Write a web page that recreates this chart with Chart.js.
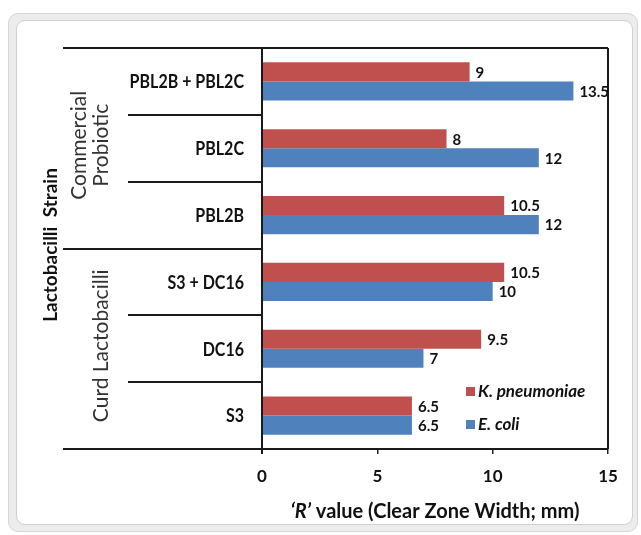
<!DOCTYPE html>
<html>
<head>
<meta charset="utf-8">
<script src="https://cdn.jsdelivr.net/npm/chart.js@4.4.1/dist/chart.umd.min.js"></script>
<style>
  body { margin: 0; background: #fff; }
  #frame { position: absolute; left: 8px; top: 13px; width: 628px; height: 517px; background: #ececec; border: 1px solid #d6d6d6; border-radius: 10px; }
  #inner { position: absolute; left: 16px; top: 20px; width: 615px; height: 503px; background: #fff; border: 1px solid #d0d0d0; border-radius: 9px; }
  #c { position: absolute; left: 0; top: 0; }
</style>
</head>
<body>
<div id="frame"></div>
<div id="inner"></div>
<canvas id="c" width="641" height="535"></canvas>
<script>
// data, top to bottom
const strains = ['PBL2B + PBL2C', 'PBL2C', 'PBL2B', 'S3 + DC16', 'DC16', 'S3'];
const kPneumoniae = [9, 8, 10.5, 10.5, 9.5, 6.5];
const eColi = [13.5, 12, 12, 10, 7, 6.5];
const xTicks = [0, 5, 10, 15];
const groupNames = [['Commercial', 'Probiotic'], ['Curd Lactobacilli']];
const groupSizes = [3, 3];
const seriesNames = ['K. pneumoniae', 'E. coli'];
const yTitle = 'Lactobacilli  Strain';

const RED = '#C0504D';
const BLUE = '#4F81BD';
const FONT = 'Lato, "Open Sans", sans-serif';

// text squeezed a bit sideways, closer to the narrow original face
function narrowText(ctx, text, x, y, sx) {
  ctx.save();
  ctx.translate(x, y);
  ctx.scale(sx, 1);
  ctx.fillText(text, 0, 0);
  ctx.restore();
}

// lines, labels, legend and titles drawn on top
const extras = {
  id: 'extras',
  afterDraw(chart) {
    const ctx = chart.ctx;
    const a = chart.chartArea;
    const n = strains.length;
    const h = (a.bottom - a.top) / n;
    const farLeft = 63, midLeft = 128;

    ctx.save();
    ctx.strokeStyle = '#1a1a1a';
    ctx.lineWidth = 2;
    ctx.beginPath();
    ctx.moveTo(farLeft, a.top); ctx.lineTo(a.right, a.top);
    ctx.moveTo(a.right, a.top); ctx.lineTo(a.right, a.bottom);
    ctx.moveTo(farLeft, a.bottom); ctx.lineTo(a.right, a.bottom);
    ctx.moveTo(a.left, a.top); ctx.lineTo(a.left, a.bottom + 5);
    // separators between strains / groups
    let groupEdges = [];
    let acc = 0;
    groupSizes.forEach(s => { acc += s; groupEdges.push(acc); });
    for (let i = 1; i < n; i++) {
      const y = Math.round(a.top + i * h);
      const x0 = groupEdges.includes(i) ? farLeft : midLeft;
      ctx.moveTo(x0, y); ctx.lineTo(a.left, y);
    }
    ctx.stroke();

    // strain names
    const yScale = chart.scales.y;
    ctx.fillStyle = '#111';
    ctx.font = 'bold 18px ' + FONT;
    ctx.textAlign = 'right';
    ctx.textBaseline = 'middle';
    strains.forEach((s, i) => {
      narrowText(ctx, s, 244, yScale.getPixelForValue(i) + 1, 0.89);
    });

    // value labels
    ctx.font = 'bold 15px ' + FONT;
    ctx.textAlign = 'left';
    chart.data.datasets.forEach((ds, di) => {
      chart.getDatasetMeta(di).data.forEach((el, i) => {
        ctx.fillText(String(ds.data[i]), el.x + 6, el.y + 1);
      });
    });

    // group labels (rotated)
    ctx.fillStyle = '#333';
    ctx.font = '21px ' + FONT;
    ctx.textAlign = 'center';
    let start = 0;
    groupNames.forEach((lines, g) => {
      const cy = a.top + (start + groupSizes[g] / 2) * h - 3;
      lines.forEach((line, li) => {
        const x = 101 - (lines.length - 1 - li) * 22;
        ctx.save();
        ctx.translate(x, cy);
        ctx.rotate(-Math.PI / 2);
        ctx.fillText(line, 0, 0);
        ctx.restore();
      });
      start += groupSizes[g];
    });

    // y title
    ctx.fillStyle = '#111';
    ctx.font = 'bold 19px ' + FONT;
    ctx.save();
    ctx.translate(51, 245);
    ctx.rotate(-Math.PI / 2);
    ctx.fillText(yTitle, 0, 0);
    ctx.restore();

    // x title with italic R
    const partA = '\u2018R\u2019';
    const partB = ' value (Clear Zone Width; mm)';
    const fA = 'italic bold 20px ' + FONT;
    const fB = 'bold 20px ' + FONT;
    ctx.font = fA; const wA = ctx.measureText(partA).width;
    ctx.font = fB; const wB = ctx.measureText(partB).width;
    let tx = (a.left + a.right) / 2 - (wA + wB) / 2;
    ctx.textAlign = 'left';
    ctx.font = fA; ctx.fillText(partA, tx, 512);
    ctx.font = fB; ctx.fillText(partB, tx + wA, 512);

    // legend
    const colors = [RED, BLUE];
    const legY = [392, 425];
    seriesNames.forEach((name, i) => {
      ctx.fillStyle = colors[i];
      ctx.fillRect(466, legY[i] - 5, 9, 9);
      ctx.fillStyle = '#111';
      ctx.font = 'italic bold 17px ' + FONT;
      ctx.fillText(name, 478, legY[i]);
    });
    ctx.restore();
  }
};

new Chart(document.getElementById('c'), {
  type: 'bar',
  data: {
    labels: strains,
    datasets: [
      { label: seriesNames[0], data: kPneumoniae, backgroundColor: RED, borderWidth: 0, categoryPercentage: 0.57, barPercentage: 1.0 },
      { label: seriesNames[1], data: eColi, backgroundColor: BLUE, borderWidth: 0, categoryPercentage: 0.57, barPercentage: 1.0 }
    ]
  },
  options: {
    indexAxis: 'y',
    responsive: false,
    animation: false,
    devicePixelRatio: 1,
    layout: { padding: { top: 48, right: 33, left: 0, bottom: 0 } },
    plugins: { legend: { display: false }, tooltip: { enabled: false } },
    scales: {
      x: {
        min: 0,
        max: 15,
        afterBuildTicks: s => { s.ticks = xTicks.map(v => ({ value: v })); },
        afterFit: s => { s.height = 86; },
        grid: { drawOnChartArea: false, drawTicks: true, tickLength: 5, color: '#222', lineWidth: 1.5 },
        border: { display: false },
        ticks: { color: '#111', font: { family: FONT, size: 17, weight: 'bold' }, padding: 12 }
      },
      y: {
        afterFit: s => { s.width = 262; },
        grid: { display: false },
        border: { display: false },
        ticks: { display: false }
      }
    }
  },
  plugins: [extras]
});
</script>
</body>
</html>
